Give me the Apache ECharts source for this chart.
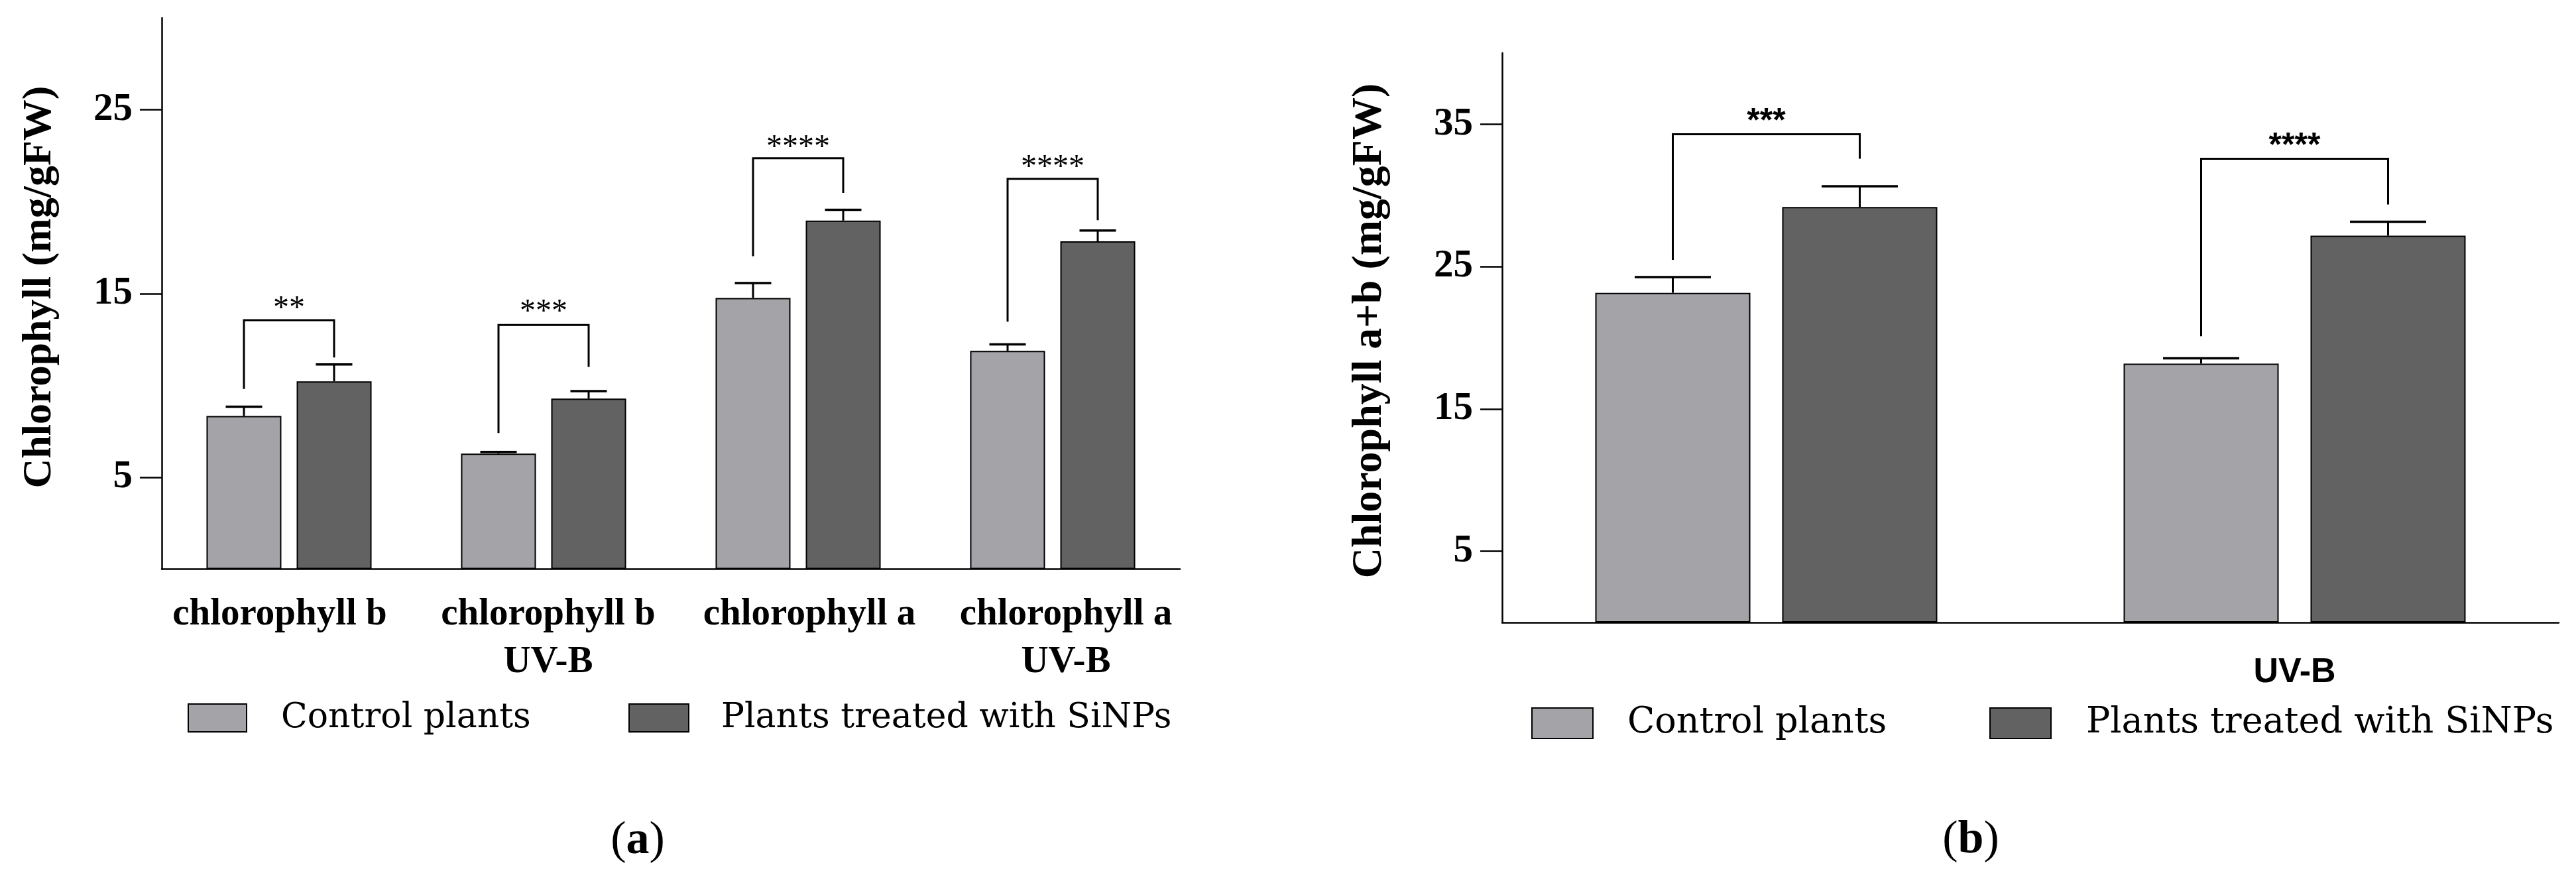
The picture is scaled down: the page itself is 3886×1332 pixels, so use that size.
<!DOCTYPE html>
<html>
<head>
<meta charset="utf-8">
<script src="https://cdn.jsdelivr.net/npm/echarts@6/dist/echarts.min.js"></script>
<style>
html,body{margin:0;padding:0;background:#fff;}
#chart{width:3886px;height:1332px;}
</style>
</head>
<body>
<div id="chart"></div>
<script>
// ---------- Data: panel (a) ----------
const categoriesA = ['chlorophyll b', 'chlorophyll b\nUV-B', 'chlorophyll a', 'chlorophyll a\nUV-B'];
const controlA = [8.34, 6.29, 14.76, 11.88];
const sinpA = [10.22, 9.28, 18.97, 17.84];
const controlErrA = [0.50, 0.09, 0.81, 0.35];
const sinpErrA = [0.92, 0.41, 0.59, 0.59];
const bracketLeftA = [9.81, 7.41, 17.03, 13.47];
const bracketTopA = [13.55, 13.29, 22.36, 21.24];
const bracketRightA = [11.52, 11.01, 20.48, 18.99];
const starPosA = [14.42, 14.25, 23.21, 22.12];
const starsA = ['**', '***', '****', '****'];
const ticksA = [5, 15, 25];

// ---------- Data: panel (b) ----------
const categoriesB = ['', 'UV-B'];
const controlB = [23.16, 18.18];
const sinpB = [29.18, 27.17];
const controlErrB = [1.10, 0.38];
const sinpErrB = [1.46, 0.98];
const bracketLeftB = [25.47, 20.10];
const bracketTopB = [34.29, 32.57];
const bracketRightB = [32.57, 29.36];
const starPosB = [35.71, 33.98];
const starsB = ['***', '****'];
const ticksB = [5, 15, 25, 35];

const seriesNames = ['Control plants', 'Plants treated with SiNPs'];

// ---------- Styles ----------
const C_CTRL = '#a4a4a8';
const C_SINP = '#626262';
const SERIF = '"Liberation Serif", "Times New Roman", serif';
const LEG_FONT = '"DejaVu Serif", serif';
const BW_A = 113, GAP_A = 23;
const BW_B = 234, GAP_B = 48;

function errRender(offset, capW) {
  return function (params, api) {
    const i = api.value(0), v = api.value(1), e = api.value(2);
    const p0 = api.coord([i, v]);
    const p1 = api.coord([i, v + e]);
    const x = p0[0] + offset;
    return {
      type: 'group',
      children: [
        {type: 'line', shape: {x1: x, y1: p0[1], x2: x, y2: p1[1]}, style: {stroke: '#000', lineWidth: 3}},
        {type: 'line', shape: {x1: x - capW / 2, y1: p1[1], x2: x + capW / 2, y2: p1[1]}, style: {stroke: '#000', lineWidth: 3.5}}
      ]
    };
  };
}

function bracketRender(offset, labels, font, dy) {
  return function (params, api) {
    const i = api.value(0);
    const xc = api.coord([i, 0])[0];
    const xl = xc - offset, xr = xc + offset;
    const yl = api.coord([i, api.value(1)])[1];
    const yt = api.coord([i, api.value(2)])[1];
    const yr = api.coord([i, api.value(3)])[1];
    const ys = api.coord([i, api.value(4)])[1];
    return {
      type: 'group',
      children: [
        {type: 'polyline', shape: {points: [[xl, yl], [xl, yt], [xr, yt], [xr, yr]]},
         style: {stroke: '#000', lineWidth: 3, fill: 'none'}},
        {type: 'text', x: (xl + xr) / 2, y: ys + dy,
         style: {text: labels[params.dataIndex], font: font, fill: '#000', align: 'center', verticalAlign: 'middle'}}
      ]
    };
  };
}

const offA = (BW_A + GAP_A) / 2;
const offB = (BW_B + GAP_B) / 2;

const labelShiftA = [[0, 28, 0, 0], [0, 0, 0, 14], [0, 0, 0, 34], [0, 0, 0, 40]];
const richA = {};
labelShiftA.forEach((p, k) => {
  richA['c' + k] = {fontFamily: SERIF, fontWeight: 'bold', fontSize: 57, lineHeight: 72, color: '#000', padding: p};
});

const chart = echarts.init(document.getElementById('chart'), null, {renderer: 'canvas'});

const yAxisCommon = {
  type: 'value', min: 0, interval: 5,
  splitLine: {show: false},
  axisLine: {show: true, lineStyle: {color: '#000', width: 2.5}},
  axisTick: {show: true, length: 33, lineStyle: {color: '#000', width: 2.5}},
  axisLabel: {margin: 44, fontFamily: SERIF, fontWeight: 'bold', fontSize: 59, color: '#000'}
};

const option = {
  backgroundColor: '#fff',
  animation: false,
  grid: [
    {left: 244, top: 27, width: 1536, height: 831.6},
    {left: 2266, top: 80, width: 1594, height: 859}
  ],
  xAxis: [
    {
      type: 'category', gridIndex: 0, data: categoriesA,
      axisLine: {show: true, lineStyle: {color: '#000', width: 2.5}},
      axisTick: {show: false},
      axisLabel: {
        interval: 0, margin: 33,
        formatter: function (value, index) {
          return value.split('\n').map(l => '{c' + index + '|' + l + '}').join('\n');
        },
        rich: richA
      }
    },
    {
      type: 'category', gridIndex: 1, data: categoriesB,
      axisLine: {show: true, lineStyle: {color: '#000', width: 2.5}},
      axisTick: {show: false},
      axisLabel: {interval: 0, margin: 50, fontFamily: '"Liberation Sans", Arial, sans-serif',
                  fontWeight: 'bold', fontSize: 52, lineHeight: 52, color: '#000'}
    }
  ],
  yAxis: [
    Object.assign({}, yAxisCommon, {
      gridIndex: 0, max: 30,
      axisTick: Object.assign({}, yAxisCommon.axisTick, {customValues: ticksA}),
      axisLabel: Object.assign({}, yAxisCommon.axisLabel, {customValues: ticksA})
    }),
    Object.assign({}, yAxisCommon, {
      gridIndex: 1, max: 40,
      axisTick: Object.assign({}, yAxisCommon.axisTick, {customValues: ticksB}),
      axisLabel: Object.assign({}, yAxisCommon.axisLabel, {customValues: ticksB})
    })
  ],
  legend: [
    {data: [seriesNames[0]], left: 283, top: 1057, padding: 0, icon: 'rect', itemWidth: 88, itemHeight: 42,
     textStyle: {fontFamily: LEG_FONT, fontSize: 52, color: '#000', padding: [0, 0, 0, 47]}},
    {data: [seriesNames[1]], left: 948, top: 1057, padding: 0, icon: 'rect', itemWidth: 90, itemHeight: 42,
     textStyle: {fontFamily: LEG_FONT, fontSize: 52, color: '#000', padding: [0, 0, 0, 44]}},
    {data: [seriesNames[0]], left: 2310, top: 1064, padding: 0, icon: 'rect', itemWidth: 92, itemHeight: 46,
     textStyle: {fontFamily: LEG_FONT, fontSize: 54, color: '#000', padding: [0, 0, 0, 47]}},
    {data: [seriesNames[1]], left: 3001, top: 1064, padding: 0, icon: 'rect', itemWidth: 92, itemHeight: 46,
     textStyle: {fontFamily: LEG_FONT, fontSize: 54, color: '#000', padding: [0, 0, 0, 48]}}
  ],
  graphic: [
    {type: 'text', x: 60, y: 433, rotation: Math.PI / 2,
     style: {text: 'Chlorophyll (mg/gFW)', font: 'bold 62px ' + SERIF, fill: '#000', align: 'center', verticalAlign: 'middle'}},
    {type: 'text', x: 2066, y: 499, rotation: Math.PI / 2,
     style: {text: 'Chlorophyll a+b (mg/gFW)', font: 'bold 64px ' + SERIF, fill: '#000', align: 'center', verticalAlign: 'middle'}},
    {type: 'text', x: 962, y: 1269,
     style: {text: '{p|(}{b|a}{p|)}', align: 'center', verticalAlign: 'middle',
             rich: {p: {fontFamily: SERIF, fontSize: 70, fill: '#000'}, b: {fontFamily: SERIF, fontSize: 70, fontWeight: 'bold', fill: '#000'}}}},
    {type: 'text', x: 2973, y: 1268,
     style: {text: '{p|(}{b|b}{p|)}', align: 'center', verticalAlign: 'middle',
             rich: {p: {fontFamily: SERIF, fontSize: 70, fill: '#000'}, b: {fontFamily: SERIF, fontSize: 70, fontWeight: 'bold', fill: '#000'}}}}
  ],
  series: [
    {name: seriesNames[0], type: 'bar', xAxisIndex: 0, yAxisIndex: 0, data: controlA,
     barWidth: BW_A, barGap: (GAP_A / BW_A * 100).toFixed(1) + '%',
     itemStyle: {color: C_CTRL, borderColor: '#000', borderWidth: 2}},
    {name: seriesNames[1], type: 'bar', xAxisIndex: 0, yAxisIndex: 0, data: sinpA,
     barWidth: BW_A, barGap: (GAP_A / BW_A * 100).toFixed(1) + '%',
     itemStyle: {color: C_SINP, borderColor: '#000', borderWidth: 2}},
    {name: seriesNames[0], type: 'bar', xAxisIndex: 1, yAxisIndex: 1, data: controlB,
     barWidth: BW_B, barGap: (GAP_B / BW_B * 100).toFixed(1) + '%',
     itemStyle: {color: C_CTRL, borderColor: '#000', borderWidth: 2}},
    {name: seriesNames[1], type: 'bar', xAxisIndex: 1, yAxisIndex: 1, data: sinpB,
     barWidth: BW_B, barGap: (GAP_B / BW_B * 100).toFixed(1) + '%',
     itemStyle: {color: C_SINP, borderColor: '#000', borderWidth: 2}},
    // error bars
    {type: 'custom', xAxisIndex: 0, yAxisIndex: 0, z: 5, renderItem: errRender(-offA, 55),
     encode: {x: 0, y: 1}, data: controlA.map((v, i) => [i, v, controlErrA[i]])},
    {type: 'custom', xAxisIndex: 0, yAxisIndex: 0, z: 5, renderItem: errRender(offA, 55),
     encode: {x: 0, y: 1}, data: sinpA.map((v, i) => [i, v, sinpErrA[i]])},
    {type: 'custom', xAxisIndex: 1, yAxisIndex: 1, z: 5, renderItem: errRender(-offB, 115),
     encode: {x: 0, y: 1}, data: controlB.map((v, i) => [i, v, controlErrB[i]])},
    {type: 'custom', xAxisIndex: 1, yAxisIndex: 1, z: 5, renderItem: errRender(offB, 115),
     encode: {x: 0, y: 1}, data: sinpB.map((v, i) => [i, v, sinpErrB[i]])},
    // significance brackets
    {type: 'custom', xAxisIndex: 0, yAxisIndex: 0, z: 6,
     renderItem: bracketRender(offA, starsA, '48px ' + SERIF, 8),
     encode: {x: 0, y: 2},
     data: categoriesA.map((c, i) => [i, bracketLeftA[i], bracketTopA[i], bracketRightA[i], starPosA[i]])},
    {type: 'custom', xAxisIndex: 1, yAxisIndex: 1, z: 6,
     renderItem: bracketRender(offB, starsB, 'bold 50px "Liberation Sans", Arial, sans-serif', 12),
     encode: {x: 0, y: 2},
     data: categoriesB.map((c, i) => [i, bracketLeftB[i], bracketTopB[i], bracketRightB[i], starPosB[i]])}
  ]
};

chart.setOption(option);
</script>
</body>
</html>
